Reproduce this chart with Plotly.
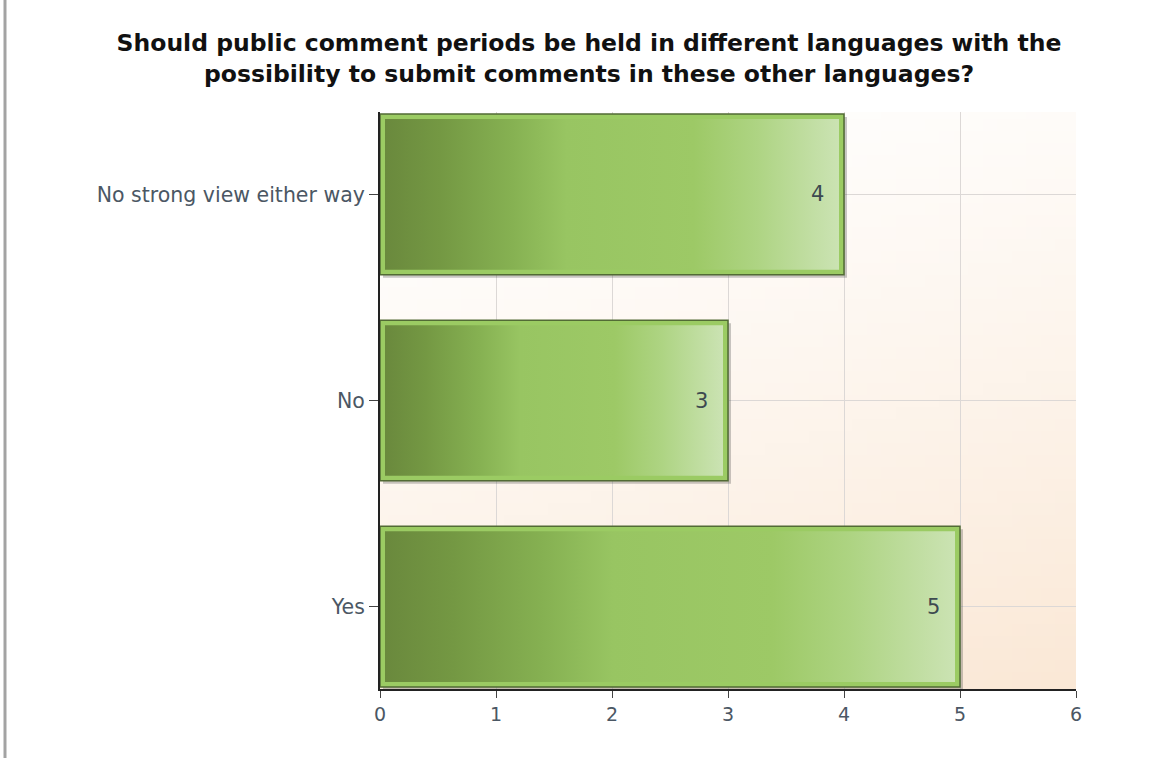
import base64
import struct
import zlib

import plotly.graph_objects as go

# Survey answers, bottom to top
categories = ["Yes", "No", "No strong view either way"]
counts = [5, 3, 4]
x_ticks = [0, 1, 2, 3, 4, 5, 6]

TITLE = ("Should public comment periods be held in different languages with the<br>"
         "possibility to submit comments in these other languages?")

W, H = 1151, 758
M_L, M_R, M_T, M_B = 380, 75, 112, 69
X_RANGE = [0, 6]
Y_RANGE = [-0.4, 2.4]
BAR_W = 0.78
BORDER_PX = 5
SHADOW_PX = 3

px_per_x = (W - M_L - M_R) / (X_RANGE[1] - X_RANGE[0])
px_per_y = (H - M_T - M_B) / (Y_RANGE[1] - Y_RANGE[0])
inset_x = BORDER_PX / px_per_x
inset_y = BORDER_PX / px_per_y

FONT = "DejaVu Sans, Verdana, sans-serif"


def gradient_png(w, h):
    """Small PNG: white in the upper left fading to a soft peach lower right."""
    c0 = (255, 255, 255)
    c1 = (250, 232, 214)
    rows = []
    for j in range(h):
        row = bytearray([0])
        for i in range(w):
            t = 0.75 * (j / (h - 1)) + 0.25 * (i / (w - 1))
            t = t ** 1.3
            row += bytes(int(round(a + (b - a) * t)) for a, b in zip(c0, c1))
        rows.append(bytes(row))
    raw = b"".join(rows)

    def chunk(tag, data):
        c = tag + data
        return struct.pack(">I", len(data)) + c + struct.pack(">I", zlib.crc32(c) & 0xFFFFFFFF)

    png = b"\x89PNG\r\n\x1a\n"
    png += chunk(b"IHDR", struct.pack(">IIBBBBB", w, h, 8, 2, 0, 0, 0))
    png += chunk(b"IDAT", zlib.compress(raw, 9))
    png += chunk(b"IEND", b"")
    return "data:image/png;base64," + base64.b64encode(png).decode()


positions = list(range(len(categories)))
fig = go.Figure()

# Soft drop shadow, nudged right and down
fig.add_trace(go.Bar(
    x=counts, y=positions, orientation="h", width=BAR_W,
    base=SHADOW_PX / px_per_x, offset=-BAR_W / 2 - SHADOW_PX / px_per_y,
    marker=dict(color="rgba(60,60,60,0.28)", line=dict(width=0)),
    hoverinfo="skip", showlegend=False,
))

# Outer bar body: light green frame with a dark outline
fig.add_trace(go.Bar(
    x=counts, y=positions, orientation="h", width=BAR_W,
    marker=dict(color="#9bcb63", line=dict(color="#526b35", width=1.5)),
    hoverinfo="skip", showlegend=False,
))

# Inner gradient panel of every bar
bar_scale = [
    [0.0, "#6a893d"], [0.12, "#749843"], [0.28, "#86b152"], [0.4, "#98c562"],
    [0.68, "#9dc966"], [0.82, "#aed483"], [1.0, "#cbe3b3"],
]
for pos, val in zip(positions, counts):
    x0, x1 = inset_x, val - inset_x
    y0, y1 = pos - BAR_W / 2 + inset_y, pos + BAR_W / 2 - inset_y
    fig.add_trace(go.Scatter(
        x=[x0, x1, x1, x0, x0], y=[y0, y0, y1, y1, y0],
        mode="lines", fill="toself", line=dict(width=0),
        fillgradient=dict(type="horizontal", colorscale=bar_scale),
        hoverinfo="skip", showlegend=False,
    ))

# Value labels near the end of each bar
for pos, val in zip(positions, counts):
    fig.add_annotation(
        x=val, y=pos, text=str(val), showarrow=False,
        xanchor="right", xshift=-18,
        font=dict(family=FONT, size=21, color="#3d4a50"),
    )

fig.update_layout(
    width=W, height=H,
    margin=dict(l=M_L, r=M_R, t=M_T, b=M_B),
    paper_bgcolor="white",
    plot_bgcolor="rgba(0,0,0,0)",
    title=dict(
        text=TITLE, x=589 / W, xanchor="center", y=1 - 51 / H, yanchor="top",
        font=dict(family=FONT, size=23.5, color="#111111", weight="bold"),
    ),
    xaxis=dict(
        range=X_RANGE, tickvals=x_ticks, showgrid=True, gridcolor="#dcd8d6", gridwidth=1,
        zeroline=False, showline=True, linecolor="#222222", linewidth=1.5,
        ticks="outside", ticklen=7, tickcolor="#444444",
        tickfont=dict(family=FONT, size=19, color="#4b5764"),
        fixedrange=True,
    ),
    yaxis=dict(
        range=Y_RANGE, tickvals=positions, ticktext=categories, showgrid=True,
        gridcolor="#dcd8d6", gridwidth=1, zeroline=False, showline=True,
        linecolor="#222222", linewidth=2, ticks="outside", ticklen=9,
        tickcolor="#444444", tickfont=dict(family=FONT, size=20.5, color="#4b5764"),
        fixedrange=True,
    ),
    images=[dict(
        source=gradient_png(48, 48), xref="paper", yref="paper",
        x=0, y=1, sizex=1, sizey=1, sizing="stretch", xanchor="left", yanchor="top",
        layer="below",
    )],
    shapes=[dict(
        type="line", xref="paper", yref="paper",
        x0=-(M_L - 5) / (W - M_L - M_R), x1=-(M_L - 5) / (W - M_L - M_R),
        y0=-M_B / (H - M_T - M_B), y1=1 + M_T / (H - M_T - M_B),
        line=dict(color="#a3a3a3", width=3),
    )],
)

fig.write_html("out.html")
